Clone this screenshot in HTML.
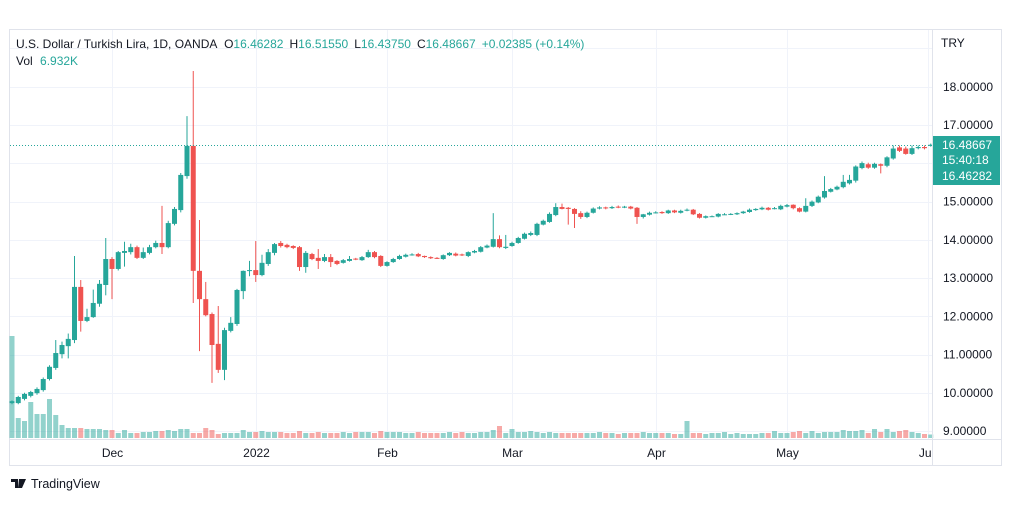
<!DOCTYPE html>
<html><head><meta charset="utf-8"><style>
html,body{margin:0;padding:0;background:#fff;}
body{width:1012px;height:501px;overflow:hidden;font-family:"Liberation Sans",sans-serif;}
svg text{font-family:"Liberation Sans",sans-serif;}
</style></head><body>
<svg id="chart" width="1012" height="501" viewBox="0 0 1012 501" xmlns="http://www.w3.org/2000/svg">
<defs><clipPath id="plotclip"><rect x="10" y="30" width="922" height="436"/></clipPath></defs>
<rect x="9.5" y="29.5" width="992" height="436" fill="#fff" stroke="#e0e3eb"/>
<g id="grid"></g>
<g id="vols"></g>
<g id="candles"></g>
<line id="lastline" x1="10" x2="932" stroke="#26a69a" stroke-dasharray="1,2" stroke-width="1"/>
<line x1="932.5" y1="30" x2="932.5" y2="465" stroke="#e0e3eb"/>
<line x1="10" y1="439.5" x2="1001" y2="439.5" stroke="#e0e3eb"/>
<g id="yaxis"></g>
<g id="xaxis" clip-path="url(#plotclip)"></g>
<text x="941" y="47" font-size="12" fill="#131722">TRY</text>
<g>
<rect x="933" y="136" width="67" height="49" fill="#26a69a"/>
<text x="942" y="149" font-size="12" fill="#fff">16.48667</text>
<text x="942" y="164" font-size="12" fill="#fff">15:40:18</text>
<text x="942" y="180" font-size="12" fill="#fff">16.46282</text>
</g>
<text x="16" y="48" font-size="12" fill="#131722">U.S. Dollar / Turkish Lira, 1D, OANDA <tspan dx="4">O</tspan><tspan fill="#26a69a">16.46282</tspan><tspan dx="6">H</tspan><tspan fill="#26a69a">16.51550</tspan><tspan dx="6">L</tspan><tspan fill="#26a69a">16.43750</tspan><tspan dx="6">C</tspan><tspan fill="#26a69a">16.48667</tspan><tspan dx="6" fill="#26a69a">+0.02385 (+0.14%)</tspan></text>
<text x="16" y="65" font-size="12" fill="#131722">Vol <tspan dx="4" fill="#26a69a">6.932K</tspan></text>
<g>
<path d="M11 479h7v9h-3v-6h-4z M19 479h3l-2 9h-2z M22 479h4l-4 9h-3z" fill="#131722"/>
<text x="31" y="488" font-size="12.5" fill="#131722">TradingView</text>
</g>
</svg>
<script>
const opens=[9.73,9.73,9.84,9.92,9.99,10.07,10.36,10.65,11.01,11.22,11.38,12.77,11.88,11.98,12.33,12.82,13.50,13.24,13.66,13.68,13.81,13.53,13.66,13.81,13.92,13.81,14.42,14.78,15.67,16.46,13.19,12.45,12.06,11.28,10.60,11.62,11.80,12.66,13.19,13.21,
13.08,13.37,13.66,13.92,13.87,13.84,13.81,13.29,13.63,13.53,13.45,13.55,13.45,13.40,13.45,13.51,13.47,13.55,13.68,13.58,13.32,13.42,13.50,13.56,13.61,13.63,13.58,13.55,13.53,13.50,13.60,13.64,13.62,13.58,13.67,13.69,13.80,13.82,14.02,13.79,13.84,13.92,14.03,14.13,14.13,14.40,14.47,14.65,14.86,14.84,14.81,
14.70,14.60,14.71,14.82,14.85,14.83,14.87,14.85,14.87,14.84,14.60,14.66,14.71,14.73,14.70,14.77,14.71,14.77,14.79,14.68,14.58,14.62,14.61,14.67,14.67,14.67,14.70,14.73,14.78,14.80,14.84,14.83,14.80,14.87,14.92,14.83,14.74,14.89,14.98,15.11,15.26,15.32,15.38,15.48,15.55,15.88,15.98,15.89,15.98,15.94,16.13,16.42,16.39,16.25,16.40,16.43,16.46];
const closes=[9.78,9.89,9.97,10.02,10.10,10.36,10.68,11.04,11.25,11.41,12.77,11.88,11.98,12.35,12.85,13.50,13.24,13.68,13.71,13.81,13.53,13.68,13.81,13.92,13.81,14.44,14.81,15.70,16.46,13.19,12.45,12.03,11.25,10.60,11.64,11.83,12.69,13.19,13.21,13.08,
13.40,13.68,13.89,13.84,13.81,13.79,13.29,13.66,13.50,13.45,13.55,13.42,13.37,13.47,13.50,13.49,13.55,13.68,13.55,13.32,13.42,13.50,13.58,13.61,13.62,13.57,13.55,13.52,13.52,13.60,13.66,13.59,13.60,13.68,13.71,13.81,13.85,14.02,13.81,13.82,13.92,14.05,14.16,14.18,14.42,14.50,14.68,14.86,14.81,14.81,14.68,
14.60,14.71,14.82,14.85,14.83,14.86,14.85,14.87,14.82,14.60,14.67,14.71,14.72,14.70,14.77,14.72,14.76,14.79,14.67,14.58,14.62,14.62,14.68,14.67,14.68,14.70,14.74,14.79,14.81,14.84,14.79,14.83,14.89,14.91,14.83,14.74,14.89,15.00,15.13,15.28,15.33,15.39,15.52,15.57,15.92,16.01,15.89,15.99,15.94,16.16,16.39,16.33,16.25,16.40,16.43,16.40,16.49];
const highs=[9.80,9.92,10.0,10.05,10.14,10.40,10.72,11.38,11.34,11.55,13.58,12.95,12.20,12.70,12.95,14.05,13.55,13.71,13.95,13.90,13.85,13.80,13.87,13.98,14.89,14.50,14.86,15.75,17.24,18.42,14.52,12.90,12.10,12.27,11.70,11.98,12.72,13.20,13.45,13.97,
13.61,13.76,13.92,13.97,13.90,13.86,13.84,13.71,13.66,13.76,13.63,13.63,13.47,13.50,13.58,13.53,13.58,13.74,13.71,13.60,13.44,13.53,13.61,13.64,13.65,13.66,13.59,13.57,13.55,13.62,13.68,13.67,13.64,13.70,13.74,13.84,13.88,14.70,14.12,14.13,13.95,14.08,14.19,14.22,14.45,14.53,14.72,14.96,14.95,14.86,14.83,
14.75,14.74,14.85,14.88,14.87,14.89,14.90,14.89,14.89,14.86,14.68,14.74,14.75,14.75,14.79,14.79,14.79,14.82,14.81,14.70,14.64,14.64,14.70,14.70,14.70,14.72,14.76,14.82,14.83,14.87,14.86,14.86,14.92,14.94,14.93,14.85,15.09,15.03,15.16,15.67,15.36,15.42,15.70,15.70,15.95,16.05,16.02,16.02,16.00,16.19,16.47,16.47,16.44,16.47,16.47,16.47,16.52];
const lows=[9.70,9.70,9.80,9.88,9.95,10.03,10.32,10.60,10.90,10.90,11.30,11.60,11.85,11.96,12.25,12.55,12.45,13.20,13.30,13.62,13.50,13.50,13.62,13.78,13.63,13.78,14.38,14.72,15.60,12.35,11.09,12.00,10.26,10.52,10.33,11.58,11.75,12.45,13.05,12.90,
13.05,13.32,13.60,13.80,13.78,13.76,13.19,13.14,13.47,13.24,13.42,13.29,13.34,13.38,13.43,13.47,13.45,13.53,13.52,13.29,13.30,13.40,13.48,13.54,13.59,13.55,13.53,13.50,13.50,13.48,13.58,13.57,13.58,13.55,13.65,13.67,13.78,13.80,13.78,13.76,13.82,13.90,14.01,14.10,14.10,14.38,14.45,14.62,14.80,14.40,14.31,
14.55,14.57,14.69,14.80,14.80,14.81,14.83,14.83,14.80,14.42,14.56,14.64,14.69,14.68,14.68,14.70,14.69,14.75,14.65,14.56,14.56,14.60,14.59,14.65,14.65,14.65,14.68,14.71,14.76,14.78,14.77,14.80,14.78,14.85,14.80,14.72,14.72,14.86,14.96,15.08,15.24,15.30,15.35,15.45,15.50,15.85,15.86,15.86,15.74,15.90,16.10,16.30,16.23,16.22,16.37,16.37,16.44];
const volumes=[204,40,34,72,48,48,78,46,26,20,20,20,18,18,18,16,16,10,16,10,10,12,12,14,14,16,14,18,18,10,10,20,16,8,10,10,10,16,12,12,
14,12,12,12,10,10,14,10,10,12,10,10,10,12,10,12,12,12,10,14,12,12,12,10,10,12,10,10,10,10,12,10,12,10,10,12,12,16,24,10,18,12,12,14,12,10,12,10,10,10,10,
10,10,10,12,10,10,8,10,10,10,12,10,10,10,10,8,8,34,10,10,8,10,10,12,8,10,8,8,8,10,10,14,10,10,12,14,10,14,10,12,12,12,16,14,14,16,10,18,12,18,12,14,16,12,10,8,7];
const priceTicks=[9,10,11,12,13,14,15,17,18];
const priceTickLabels=["9.00000","10.00000","11.00000","12.00000","13.00000","14.00000","15.00000","17.00000","18.00000"];
const timeLabels=["Dec","2022","Feb","Mar","Apr","May","Jun"];
const timeLabelIndex=[16,39,60,80,103,124,146.6];
const lastClose=16.48667;

const NS="http://www.w3.org/2000/svg";
const X0=12, STEP=6.25, Y0=431, PPU=38.22, VBASE=438, VSCALE=0.5;
const xOf=i=>X0+STEP*i;
const yOf=p=>Y0-(p-9)*PPU;
function mk(tag,attrs,parent){const e=document.createElementNS(NS,tag);for(const k in attrs)e.setAttribute(k,attrs[k]);parent.appendChild(e);return e;}
const grid=document.getElementById('grid'),cg=document.getElementById('candles'),vg=document.getElementById('vols'),ya=document.getElementById('yaxis'),xa=document.getElementById('xaxis');
for(let k=9;k<=18;k++){const y=Math.round(yOf(k))+0.5;const l=mk('line',{x1:10,x2:932,y1:y,y2:y,stroke:'#f0f3fa'},grid);

}
{const l=mk('line',{x1:10,x2:932,y1:48.5,y2:48.5,stroke:'#f0f3fa'},grid);

}
timeLabels.forEach((t,i)=>{const x=Math.round(xOf(timeLabelIndex[i]))+0.5;
if(x<932){const l=mk('line',{x1:x,x2:x,y1:30,y2:439,stroke:'#f0f3fa'},grid);

}
const tx=mk('text',{x:x,y:457,'font-size':12,fill:'#131722','text-anchor':'middle'},xa);tx.textContent=t;

});
priceTicks.forEach((p,i)=>{const t=mk('text',{x:943,y:yOf(p)+4,'font-size':12,fill:'#131722'},ya);t.textContent=priceTickLabels[i];

});
for(let i=0;i<opens.length;i++){
 const up=closes[i]>=opens[i];const col=up?'#26a69a':'#ef5350';const x=xOf(i);
 const v=volumes[i]||10;const vh=v*VSCALE;
 const vb=mk('rect',{x:x-2.5,y:VBASE-vh,width:5,height:vh,fill:up?'rgba(38,166,154,0.5)':'rgba(239,83,80,0.5)'},vg);
 
 
 const w=mk('line',{x1:x,x2:x,y1:yOf(highs[i]),y2:yOf(lows[i]),stroke:col,'stroke-width':1},cg);
 
 
 const top=yOf(Math.max(opens[i],closes[i])),bot=yOf(Math.min(opens[i],closes[i]));
 const b=mk('rect',{x:x-2.5,y:top,width:5,height:Math.max(1,bot-top),fill:col},cg);
 
 
}
const ll=document.getElementById('lastline');const ly=Math.round(yOf(lastClose))+0.5;ll.setAttribute('y1',ly);ll.setAttribute('y2',ly);
</script>
</body></html>
